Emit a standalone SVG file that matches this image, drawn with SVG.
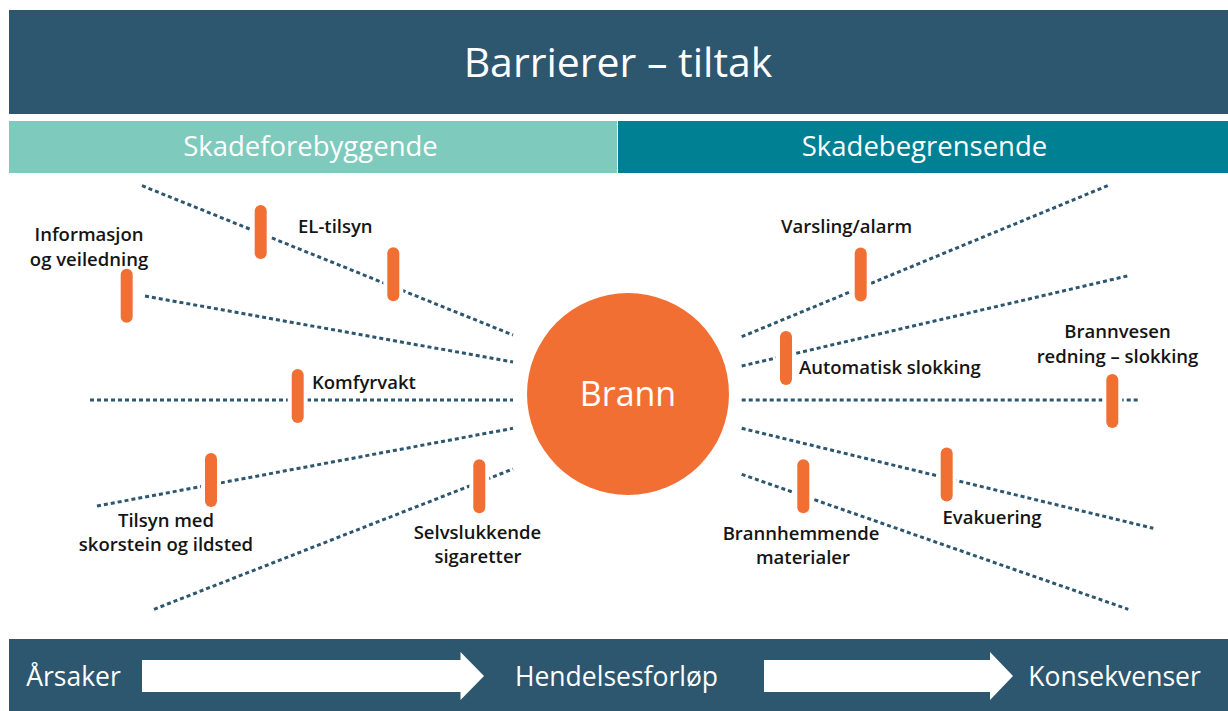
<svg xmlns="http://www.w3.org/2000/svg" xmlns:xlink="http://www.w3.org/1999/xlink" width="1228" height="711" viewBox="0 0 1228 711">
  <style>
    .band { fill: #2d566f; }
    .head { font-family: "Open Sans", "Liberation Sans", sans-serif; fill: #ffffff; text-anchor: middle; }
    .lbl { font-family: "Open Sans", "Liberation Sans", sans-serif; font-size: 18.5px; font-weight: 600; fill: #151515; }
    .mid { text-anchor: middle; }
    .dots { stroke: #2d566f; stroke-width: 3; stroke-dasharray: 4 3; fill: none; }
    .bar { fill: #f26f33; stroke: #ffffff; stroke-width: 8; paint-order: stroke; }
    .flow { fill: #ffffff; }
  </style>
  <defs>
    <rect id="bar" x="-6" y="-27" width="12" height="54" rx="6"/>
  </defs>

  <rect width="1228" height="711" fill="#ffffff"/>

  <!-- title band -->
  <g id="title">
    <rect class="band" x="9" y="10" width="1219" height="104"/>
    <text class="head" x="618" y="77" font-size="41" font-weight="500">Barrierer – tiltak</text>
  </g>

  <!-- section headers -->
  <g id="header-prevent">
    <rect x="9" y="121" width="608" height="52" fill="#7ecabc"/>
    <text class="head" x="310.5" y="155.5" font-size="27.5" font-weight="500">Skadeforebyggende</text>
  </g>
  <g id="header-limit">
    <rect x="618" y="121" width="610" height="52" fill="#008093"/>
    <text class="head" x="924.5" y="155.5" font-size="27.5" font-weight="500">Skadebegrensende</text>
  </g>

  <!-- dotted rays to and from the fire -->
  <g id="connectors">
    <line class="dots" x1="142" y1="185.7" x2="513" y2="335"/>
    <line class="dots" x1="145" y1="296" x2="513" y2="362"/>
    <line class="dots" x1="90" y1="400" x2="513" y2="400"/>
    <line class="dots" x1="97" y1="506" x2="513" y2="428.3"/>
    <line class="dots" x1="154" y1="609.3" x2="513" y2="469"/>
    <line class="dots" x1="741.7" y1="336.7" x2="1109.3" y2="185"/>
    <line class="dots" x1="741.7" y1="366" x2="1127.3" y2="276"/>
    <line class="dots" x1="741.7" y1="400" x2="1138.3" y2="400"/>
    <line class="dots" x1="741.7" y1="428.3" x2="1153.3" y2="528.3"/>
    <line class="dots" x1="741.7" y1="474.3" x2="1128.3" y2="609.3"/>
  </g>

  <!-- central event -->
  <g id="brann">
    <circle cx="628" cy="394" r="101" fill="#f26f33"/>
    <text class="head" x="628" y="406" font-size="34" font-weight="500">Brann</text>
  </g>

  <!-- preventive barriers -->
  <g id="informasjon">
    <use xlink:href="#bar" class="bar" x="126.7" y="295.8"/>
    <text class="lbl mid" x="89" y="241">Informasjon</text>
    <text class="lbl mid" x="89" y="266">og veiledning</text>
  </g>
  <g id="el-tilsyn">
    <use xlink:href="#bar" class="bar" x="260.7" y="232"/>
    <use xlink:href="#bar" class="bar" x="393.3" y="274.3"/>
    <text class="lbl" x="298" y="232.5">EL-tilsyn</text>
  </g>
  <g id="komfyrvakt">
    <use xlink:href="#bar" class="bar" x="297.7" y="396"/>
    <text class="lbl" x="312" y="389">Komfyrvakt</text>
  </g>
  <g id="tilsyn-skorstein">
    <use xlink:href="#bar" class="bar" x="211" y="480"/>
    <text class="lbl mid" x="166" y="527">Tilsyn med</text>
    <text class="lbl mid" x="166" y="551">skorstein og ildsted</text>
  </g>
  <g id="selvslukkende">
    <use xlink:href="#bar" class="bar" x="479.3" y="486.3"/>
    <text class="lbl mid" x="477.5" y="539">Selvslukkende</text>
    <text class="lbl mid" x="478" y="563">sigaretter</text>
  </g>

  <!-- limiting barriers -->
  <g id="varsling">
    <use xlink:href="#bar" class="bar" x="860.7" y="274.5"/>
    <text class="lbl" x="781" y="232.5">Varsling/alarm</text>
  </g>
  <g id="automatisk-slokking">
    <use xlink:href="#bar" class="bar" x="786" y="358"/>
    <text class="lbl" x="799" y="374">Automatisk slokking</text>
  </g>
  <g id="brannvesen">
    <use xlink:href="#bar" class="bar" x="1112.3" y="401"/>
    <text class="lbl mid" x="1117.5" y="337.5">Brannvesen</text>
    <text class="lbl mid" x="1117.5" y="362.5">redning – slokking</text>
  </g>
  <g id="evakuering">
    <use xlink:href="#bar" class="bar" x="946.7" y="474.5"/>
    <text class="lbl" x="942.5" y="524">Evakuering</text>
  </g>
  <g id="brannhemmende">
    <use xlink:href="#bar" class="bar" x="803.3" y="486.3"/>
    <text class="lbl mid" x="801" y="540">Brannhemmende</text>
    <text class="lbl mid" x="803" y="564">materialer</text>
  </g>

  <!-- timeline band -->
  <g id="timeline">
    <rect class="band" x="9" y="639" width="1219" height="72"/>
    <text class="head" x="73.5" y="686" font-size="26.5" font-weight="500">Årsaker</text>
    <polygon class="flow" points="142,660 460.5,660 460.5,652 484,676 460.5,700 460.5,692 142,692"/>
    <text class="head" x="616.5" y="686" font-size="26.5" font-weight="500">Hendelsesforløp</text>
    <polygon class="flow" points="764,660 990,660 990,652 1013,676 990,700 990,692 764,692"/>
    <text class="head" x="1114.5" y="686" font-size="26.5" font-weight="500">Konsekvenser</text>
  </g>
</svg>
